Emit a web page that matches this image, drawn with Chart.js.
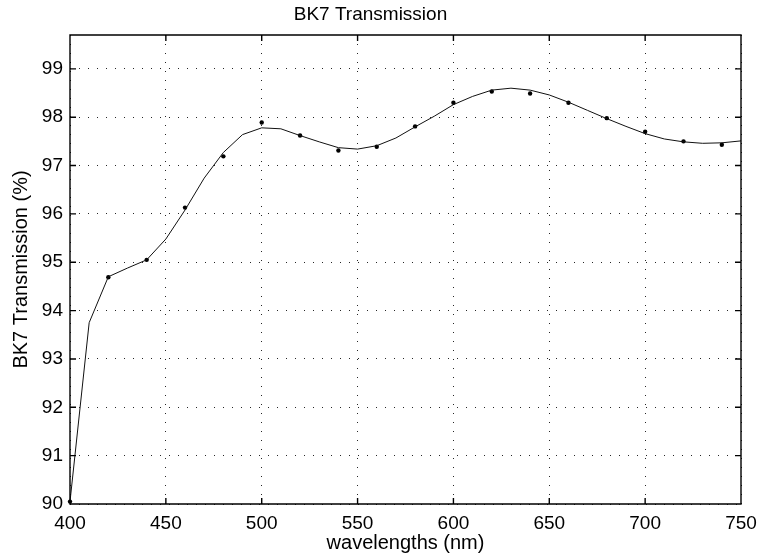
<!DOCTYPE html>
<html>
<head>
<meta charset="utf-8">
<title>BK7 Transmission</title>
<script src="https://cdn.jsdelivr.net/npm/chart.js@4.4.1/dist/chart.umd.min.js"></script>
<style>
  html, body { margin: 0; padding: 0; background: #ffffff; }
  #wrap { width: 760px; height: 556px; }
</style>
</head>
<body>
<div id="wrap"><canvas id="chart" width="760" height="556"></canvas></div>
<script>
// Smoothed transmission curve, sampled every 10 nm
const fitWavelengths = [400, 410, 420, 430, 440, 450, 460, 470, 480, 490, 500, 510,
                        520, 530, 540, 550, 560, 570, 580, 590, 600, 610, 620, 630,
                        640, 650, 660, 670, 680, 690, 700, 710, 720, 730, 740, 750];
const fitTransmission = [90.05, 93.75, 94.70, 94.88, 95.05, 95.48, 96.08, 96.74, 97.27, 97.64, 97.78, 97.76,
                         97.62, 97.49, 97.37, 97.34, 97.41, 97.57, 97.80, 98.02, 98.26, 98.43, 98.56, 98.60,
                         98.56, 98.46, 98.31, 98.14, 97.97, 97.81, 97.66, 97.55, 97.49, 97.46, 97.47, 97.51];

// Measured transmission, every 20 nm
const sampleWavelengths = [400, 420, 440, 460, 480, 500, 520, 540, 560,
                           580, 600, 620, 640, 660, 680, 700, 720, 740];
const sampleTransmission = [90.05, 94.69, 95.05, 96.13, 97.19, 97.89, 97.62, 97.31, 97.39,
                            97.81, 98.30, 98.53, 98.49, 98.30, 97.98, 97.70, 97.50, 97.43];

// Axis ticks
const xTickValues = [400, 450, 500, 550, 600, 650, 700, 750];
const yTickValues = [90, 91, 92, 93, 94, 95, 96, 97, 98, 99];

const FONT = "'Liberation Sans', Arial, Helvetica, sans-serif";

// Box around the plot area with inward-pointing tick marks on all four sides
const axisFrame = {
  id: 'axisFrame',
  afterDatasetsDraw(chart) {
    const { ctx, chartArea: a, scales } = chart;
    const xs = scales.x, ys = scales.y;
    const len = 6;
    ctx.save();
    ctx.strokeStyle = '#000000';
    ctx.lineWidth = 1.4;
    ctx.beginPath();
    ctx.rect(a.left, a.top, a.right - a.left, a.bottom - a.top);
    xTickValues.forEach(v => {
      const px = xs.getPixelForValue(v);
      ctx.moveTo(px, a.bottom); ctx.lineTo(px, a.bottom - len);
      ctx.moveTo(px, a.top);    ctx.lineTo(px, a.top + len);
    });
    yTickValues.forEach(v => {
      const py = ys.getPixelForValue(v);
      ctx.moveTo(a.left, py);  ctx.lineTo(a.left + len, py);
      ctx.moveTo(a.right, py); ctx.lineTo(a.right - len, py);
    });
    ctx.stroke();
    ctx.restore();
  }
};

new Chart(document.getElementById('chart'), {
  type: 'scatter',
  data: {
    datasets: [
      {
        label: 'fit',
        data: fitWavelengths.map((w, i) => ({ x: w, y: fitTransmission[i] })),
        showLine: true,
        borderColor: '#111111',
        borderWidth: 1,
        pointRadius: 0,
        pointHoverRadius: 0,
        tension: 0,
        fill: false,
        clip: false
      },
      {
        label: 'measured',
        data: sampleWavelengths.map((w, i) => ({ x: w, y: sampleTransmission[i] })),
        showLine: false,
        pointRadius: 2.2,
        pointBorderWidth: 0,
        pointBackgroundColor: '#000000',
        borderColor: '#000000',
        clip: false
      }
    ]
  },
  options: {
    responsive: false,
    devicePixelRatio: 1,
    animation: false,
    layout: { padding: { left: 0, right: 19, top: 0, bottom: 0 } },
    plugins: {
      legend: { display: false },
      tooltip: { enabled: false },
      title: {
        display: true,
        text: 'BK7 Transmission',
        color: '#000000',
        font: { family: FONT, size: 19, weight: 'normal' },
        padding: { top: 3, bottom: 9.2 }
      }
    },
    scales: {
      x: {
        type: 'linear',
        min: 400,
        max: 750,
        afterBuildTicks: s => { s.ticks = xTickValues.map(v => ({ value: v })); },
        afterFit: s => { s.height = 52; s.paddingLeft = 0; s.paddingRight = 0; },
        ticks: {
          color: '#000000',
          font: { family: FONT, size: 19 },
          padding: 8,
          maxRotation: 0,
          autoSkip: false
        },
        grid: { drawTicks: false, color: 'rgba(0,0,0,0.85)', lineWidth: 1 },
        border: { display: false, dash: [1, 8] },
        title: {
          display: true,
          text: 'wavelengths (nm)',
          color: '#000000',
          font: { family: FONT, size: 20 },
          padding: { top: 0, bottom: 1 }
        }
      },
      y: {
        type: 'linear',
        min: 90,
        max: 99.7,
        afterBuildTicks: s => { s.ticks = yTickValues.map(v => ({ value: v })); },
        afterFit: s => { s.width = 70; s.paddingTop = 0; s.paddingBottom = 0; },
        ticks: {
          color: '#000000',
          font: { family: FONT, size: 19 },
          padding: 7,
          autoSkip: false
        },
        grid: { drawTicks: false, color: 'rgba(0,0,0,0.85)', lineWidth: 1 },
        border: { display: false, dash: [1, 8] },
        title: {
          display: true,
          text: 'BK7 Transmission (%)',
          color: '#000000',
          font: { family: FONT, size: 20 },
          padding: { top: 9.5, bottom: 0 }
        }
      }
    }
  },
  plugins: [axisFrame]
});
</script>
</body>
</html>
